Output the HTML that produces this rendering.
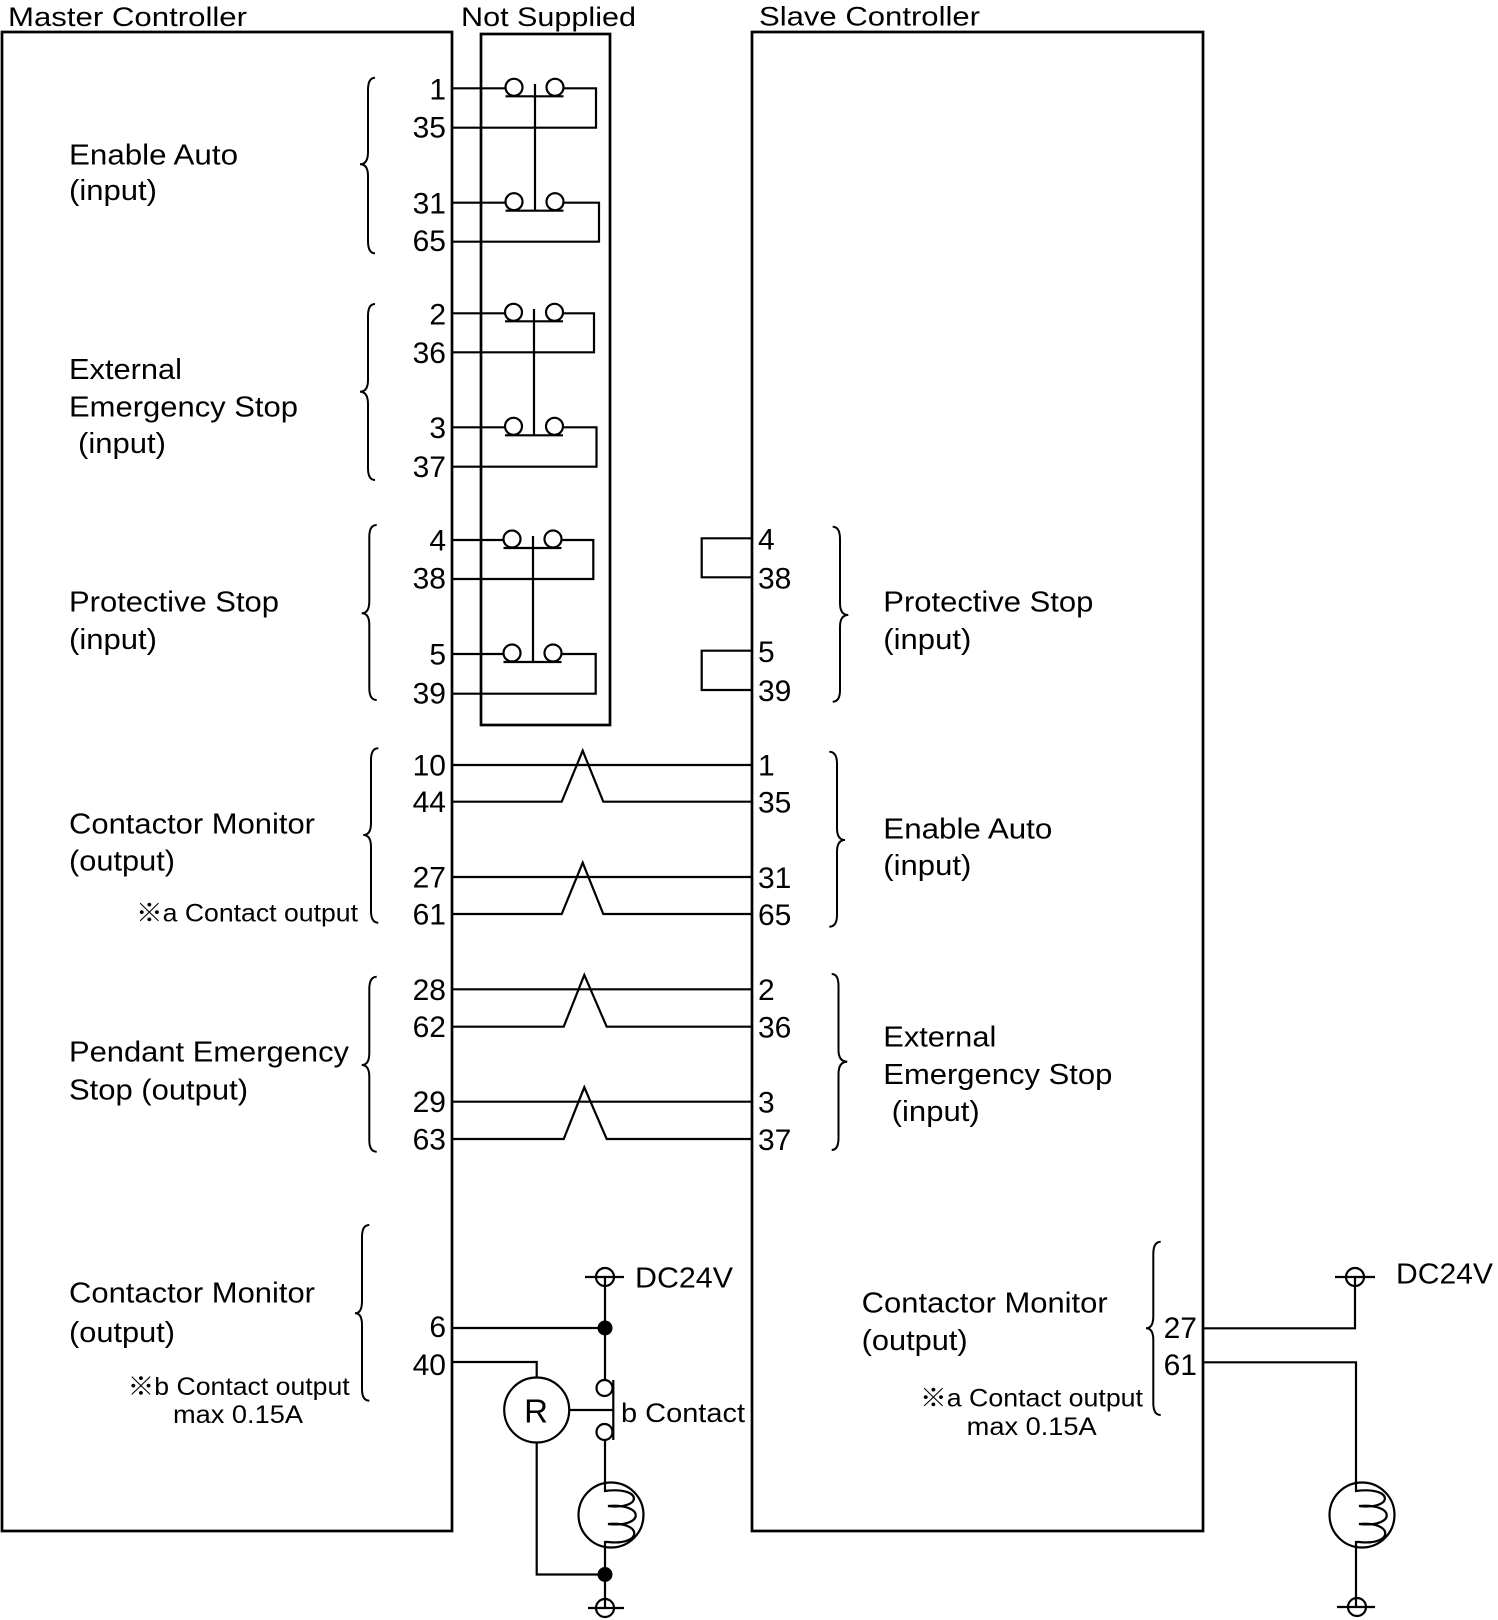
<!DOCTYPE html>
<html>
<head>
<meta charset="utf-8">
<style>
  html, body { margin:0; padding:0; background:#fff; }
  svg { display:block; }
  text { font-family: "Liberation Sans", "Noto Sans CJK JP", sans-serif; fill:#000; }
  .t { font-size:27px; }
  .lb { font-size:29px; }
  .nt { font-size:25px; }
  .num { font-size:30px; }
</style>
</head>
<body>
<svg width="1498" height="1620" viewBox="0 0 1498 1620" xmlns="http://www.w3.org/2000/svg">
  <rect x="0" y="0" width="1498" height="1620" fill="#fff"/>

  <!-- Titles -->
  <text class="t" x="8" y="26" textLength="239" lengthAdjust="spacingAndGlyphs">Master Controller</text>
  <text class="t" x="461" y="26" textLength="175" lengthAdjust="spacingAndGlyphs">Not Supplied</text>
  <text class="t" x="759" y="25.5" textLength="221" lengthAdjust="spacingAndGlyphs">Slave Controller</text>

  <!-- Boxes -->
  <g fill="none" stroke="#000" stroke-width="2.7">
    <rect x="2" y="32" width="450" height="1499"/>
    <rect x="481" y="34" width="129" height="691"/>
    <rect x="752" y="32" width="451" height="1499"/>
  </g>

  <!-- Relay contacts inside Not Supplied -->
  <g fill="none" stroke="#000" stroke-width="2.2">
    <line x1="452" y1="88.3" x2="505.5" y2="88.3"/>
    <circle cx="514" cy="87.3" r="8.5"/><circle cx="555" cy="87.3" r="8.5"/>
    <line x1="505.5" y1="96.3" x2="563.5" y2="96.3"/>
    <polyline points="563.5,88.3 596,88.3 596,127.7 452,127.7"/>
    <line x1="452" y1="202.7" x2="505.5" y2="202.7"/>
    <circle cx="514" cy="201.7" r="8.5"/><circle cx="555" cy="201.7" r="8.5"/>
    <line x1="505.5" y1="210.7" x2="563.5" y2="210.7"/>
    <polyline points="563.5,202.7 599,202.7 599,241.7 452,241.7"/>
    <line x1="535" y1="84" x2="535" y2="210.7"/>
    <line x1="452" y1="313.3" x2="505" y2="313.3"/>
    <circle cx="513.5" cy="312.3" r="8.5"/><circle cx="554.5" cy="312.3" r="8.5"/>
    <line x1="505" y1="321.3" x2="563" y2="321.3"/>
    <polyline points="563,313.3 594,313.3 594,352.3 452,352.3"/>
    <line x1="452" y1="427.3" x2="505" y2="427.3"/>
    <circle cx="513.5" cy="426.3" r="8.5"/><circle cx="554.5" cy="426.3" r="8.5"/>
    <line x1="505" y1="435.3" x2="563" y2="435.3"/>
    <polyline points="563,427.3 596.5,427.3 596.5,466.7 452,466.7"/>
    <line x1="534" y1="309" x2="534" y2="435.3"/>
    <line x1="452" y1="540" x2="503.5" y2="540"/>
    <circle cx="512" cy="539" r="8.5"/><circle cx="553" cy="539" r="8.5"/>
    <line x1="503.5" y1="548" x2="561.5" y2="548"/>
    <polyline points="561.5,540 593.3,540 593.3,579 452,579"/>
    <line x1="452" y1="654" x2="503.5" y2="654"/>
    <circle cx="512" cy="653" r="8.5"/><circle cx="553" cy="653" r="8.5"/>
    <line x1="503.5" y1="662" x2="561.5" y2="662"/>
    <polyline points="561.5,654 595.7,654 595.7,693.7 452,693.7"/>
    <line x1="533" y1="536" x2="533" y2="662"/>

    <polyline points="752,538.3 701.7,538.3 701.7,577.3 752,577.3"/>
    <polyline points="752,650.7 701.7,650.7 701.7,690 752,690"/>

    <line x1="452" y1="765" x2="752" y2="765"/>
    <polyline points="452,801.7 561.7,801.7 582.7,750.7 603.3,801.7 752,801.7"/>
    <line x1="452" y1="877" x2="752" y2="877"/>
    <polyline points="452,914 561.7,914 582.7,862.7 603.3,914 752,914"/>
    <line x1="452" y1="989.3" x2="752" y2="989.3"/>
    <polyline points="452,1026.7 563.7,1026.7 584.3,975 606.7,1026.7 752,1026.7"/>
    <line x1="452" y1="1101.7" x2="752" y2="1101.7"/>
    <polyline points="452,1139 563.7,1139 584.3,1087.3 606.7,1139 752,1139"/>

    <circle cx="605" cy="1277" r="9"/>
    <line x1="585" y1="1277" x2="624" y2="1277"/>
    <line x1="605" y1="1277" x2="605" y2="1380"/>
    <line x1="452" y1="1328" x2="605" y2="1328"/>
    <polyline points="452,1362 536.7,1362 536.7,1377.5"/>
    <circle cx="536.7" cy="1410" r="32.5"/>
    <line x1="569.2" y1="1410" x2="613.3" y2="1410"/>
    <line x1="613.3" y1="1380" x2="613.3" y2="1440"/>
    <circle cx="604.5" cy="1388" r="8"/>
    <circle cx="604.5" cy="1432" r="8"/>
    <line x1="605" y1="1440" x2="605" y2="1482"/>
    <circle cx="611" cy="1515" r="32.5"/>
    <path d="M605,1481 L605,1491 C643,1486 643,1510 608,1506 C645,1503 645,1528 608,1524 C643,1521 643,1546 608,1542 L605,1542 L605,1608"/>
    <polyline points="536.7,1442.5 536.7,1574.5 605,1574.5"/>
    <circle cx="605" cy="1608" r="9"/>
    <line x1="588" y1="1608" x2="624" y2="1608"/>

    <circle cx="1355" cy="1277" r="9"/>
    <line x1="1335" y1="1277" x2="1375" y2="1277"/>
    <polyline points="1355,1277 1355,1328.3 1203,1328.3"/>
    <polyline points="1203,1362.3 1356,1362.3 1356,1482"/>
    <circle cx="1362" cy="1515" r="32.5"/>
    <path d="M1356,1481 L1356,1491 C1394,1486 1394,1510 1359,1506 C1396,1503 1396,1528 1359,1524 C1394,1521 1394,1546 1359,1542 L1356,1542 L1356,1607"/>
    <circle cx="1357" cy="1607" r="9"/>
    <line x1="1337" y1="1607" x2="1375" y2="1607"/>
  </g>

  <circle cx="605" cy="1328" r="7.5" fill="#000"/>
  <circle cx="605" cy="1574.5" r="7.5" fill="#000"/>

  <!-- Braces -->
  <g fill="none" stroke="#000" stroke-width="2">
    <path d="M375,77.7 Q368,77.7 368,90 L368,152 Q368,164.3 360,164.3 Q368,164.3 368,176 L368,241 Q368,253.3 375,253.3"/>
    <path d="M375,304 Q368,304 368,316 L368,380 Q368,391.7 360,391.7 Q368,391.7 368,404 L368,468 Q368,480 375,480"/>
    <path d="M376.7,525 Q369.3,525 369.3,537 L369.3,601 Q369.3,613.3 361.7,613.3 Q369.3,613.3 369.3,625 L369.3,688 Q369.3,700 376.7,700"/>
    <path d="M378.3,748.3 Q371,748.3 371,760 L371,823 Q371,835 363.3,835 Q371,835 371,847 L371,911 Q371,922.7 378.3,922.7"/>
    <path d="M376.7,976.7 Q369.3,976.7 369.3,989 L369.3,1053 Q369.3,1065 361.7,1065 Q369.3,1065 369.3,1077 L369.3,1140 Q369.3,1151.7 376.7,1151.7"/>
    <path d="M369.3,1225 Q362,1225 362,1237 L362,1301 Q362,1313.3 355,1313.3 Q362,1313.3 362,1325 L362,1389 Q362,1400.7 369.3,1400.7"/>
    <path d="M832.7,526.7 Q840,526.7 840,539 L840,603 Q840,615 848.3,615 Q840,615 840,627 L840,690 Q840,701.7 832.7,701.7"/>
    <path d="M829.3,751.7 Q837,751.7 837,764 L837,828 Q837,840 845,840 Q837,840 837,852 L837,915 Q837,926.7 829.3,926.7"/>
    <path d="M831.7,974 Q838.5,974 838.5,986 L838.5,1050 Q838.5,1061.7 847.3,1061.7 Q838.5,1061.7 838.5,1074 L838.5,1138 Q838.5,1150 831.7,1150"/>
    <path d="M1160.7,1241.7 Q1153.3,1241.7 1153.3,1254 L1153.3,1316 Q1153.3,1328.3 1146,1328.3 Q1153.3,1328.3 1153.3,1340 L1153.3,1403 Q1153.3,1415 1160.7,1415"/>
  </g>

  <!-- Master terminal numbers -->
  <g text-anchor="end">
    <text class="num" x="446" y="99.5">1</text>
    <text class="num" x="446" y="137.7">35</text>
    <text class="num" x="446" y="213.3">31</text>
    <text class="num" x="446" y="251">65</text>
    <text class="num" x="446" y="324.5">2</text>
    <text class="num" x="446" y="363">36</text>
    <text class="num" x="446" y="438">3</text>
    <text class="num" x="446" y="477">37</text>
    <text class="num" x="446" y="550.7">4</text>
    <text class="num" x="446" y="588.5">38</text>
    <text class="num" x="446" y="664.5">5</text>
    <text class="num" x="446" y="703.5">39</text>
    <text class="num" x="446" y="775.5">10</text>
    <text class="num" x="446" y="812">44</text>
    <text class="num" x="446" y="887.5">27</text>
    <text class="num" x="446" y="924.5">61</text>
    <text class="num" x="446" y="1000">28</text>
    <text class="num" x="446" y="1037">62</text>
    <text class="num" x="446" y="1112">29</text>
    <text class="num" x="446" y="1149.5">63</text>
    <text class="num" x="446" y="1337">6</text>
    <text class="num" x="446" y="1375">40</text>
  </g>

  <!-- Slave terminal numbers -->
  <g>
    <text class="num" x="758" y="549.5">4</text>
    <text class="num" x="758" y="588.3">38</text>
    <text class="num" x="758" y="662">5</text>
    <text class="num" x="758" y="701">39</text>
    <text class="num" x="758" y="775.7">1</text>
    <text class="num" x="758" y="812.5">35</text>
    <text class="num" x="758" y="888">31</text>
    <text class="num" x="758" y="925">65</text>
    <text class="num" x="758" y="1000">2</text>
    <text class="num" x="758" y="1037.5">36</text>
    <text class="num" x="758" y="1112.5">3</text>
    <text class="num" x="758" y="1150">37</text>
    <text class="num" x="1197" y="1338" text-anchor="end">27</text>
    <text class="num" x="1197" y="1375" text-anchor="end">61</text>
  </g>

  <!-- Master labels -->
  <text class="lb" x="69" y="164.3" textLength="169" lengthAdjust="spacingAndGlyphs">Enable Auto</text>
  <text class="lb" x="69" y="200" textLength="88" lengthAdjust="spacingAndGlyphs">(input)</text>
  <text class="lb" x="69" y="379" textLength="113" lengthAdjust="spacingAndGlyphs">External</text>
  <text class="lb" x="69" y="416.7" textLength="229" lengthAdjust="spacingAndGlyphs">Emergency Stop</text>
  <text class="lb" x="78" y="453" textLength="88" lengthAdjust="spacingAndGlyphs">(input)</text>
  <text class="lb" x="69" y="611.7" textLength="210" lengthAdjust="spacingAndGlyphs">Protective Stop</text>
  <text class="lb" x="69" y="649" textLength="88" lengthAdjust="spacingAndGlyphs">(input)</text>
  <text class="lb" x="69" y="833.3" textLength="246" lengthAdjust="spacingAndGlyphs">Contactor Monitor</text>
  <text class="lb" x="69" y="870.7" textLength="106" lengthAdjust="spacingAndGlyphs">(output)</text>
  <text class="nt" x="136" y="921.7" textLength="222" lengthAdjust="spacingAndGlyphs">※a Contact output</text>
  <text class="lb" x="69" y="1061.7" textLength="280" lengthAdjust="spacingAndGlyphs">Pendant Emergency</text>
  <text class="lb" x="69" y="1099.3" textLength="179" lengthAdjust="spacingAndGlyphs">Stop (output)</text>
  <text class="lb" x="69" y="1302.7" textLength="246" lengthAdjust="spacingAndGlyphs">Contactor Monitor</text>
  <text class="lb" x="69" y="1342" textLength="106" lengthAdjust="spacingAndGlyphs">(output)</text>
  <text class="nt" x="127.7" y="1395" textLength="222" lengthAdjust="spacingAndGlyphs">※b Contact output</text>
  <text class="nt" x="173" y="1423" textLength="130" lengthAdjust="spacingAndGlyphs">max 0.15A</text>

  <!-- Slave labels -->
  <text class="lb" x="883.3" y="611.7" textLength="210" lengthAdjust="spacingAndGlyphs">Protective Stop</text>
  <text class="lb" x="883.3" y="649" textLength="88" lengthAdjust="spacingAndGlyphs">(input)</text>
  <text class="lb" x="883.3" y="838.3" textLength="169" lengthAdjust="spacingAndGlyphs">Enable Auto</text>
  <text class="lb" x="883.3" y="875" textLength="88" lengthAdjust="spacingAndGlyphs">(input)</text>
  <text class="lb" x="883.3" y="1046.7" textLength="113" lengthAdjust="spacingAndGlyphs">External</text>
  <text class="lb" x="883.3" y="1084" textLength="229" lengthAdjust="spacingAndGlyphs">Emergency Stop</text>
  <text class="lb" x="891.7" y="1121" textLength="88" lengthAdjust="spacingAndGlyphs">(input)</text>
  <text class="lb" x="861.7" y="1312.7" textLength="246" lengthAdjust="spacingAndGlyphs">Contactor Monitor</text>
  <text class="lb" x="861.7" y="1350" textLength="106" lengthAdjust="spacingAndGlyphs">(output)</text>
  <text class="nt" x="920" y="1406.7" textLength="223" lengthAdjust="spacingAndGlyphs">※a Contact output</text>
  <text class="nt" x="966.7" y="1435" textLength="130" lengthAdjust="spacingAndGlyphs">max 0.15A</text>

  <!-- Circuit labels -->
  <text class="lb" x="635" y="1287.3" textLength="98" lengthAdjust="spacingAndGlyphs">DC24V</text>
  <text class="lb" x="1396" y="1283.3" textLength="97" lengthAdjust="spacingAndGlyphs">DC24V</text>
  <text x="536" y="1422.5" text-anchor="middle" style="font-size:33px">R</text>
  <text x="621" y="1422" style="font-size:27px" textLength="124" lengthAdjust="spacingAndGlyphs">b Contact</text>
</svg>
</body>
</html>
